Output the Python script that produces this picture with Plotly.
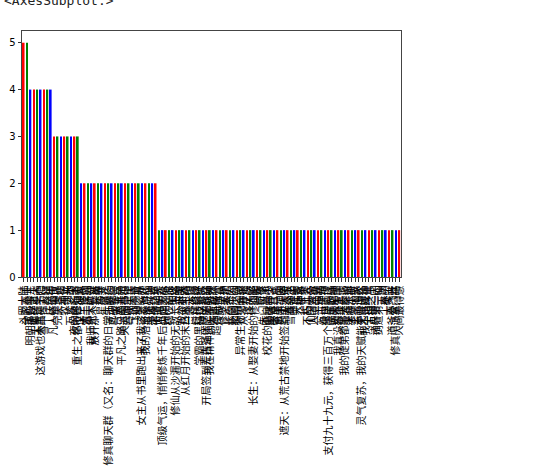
import plotly.graph_objects as go

labels = [
    "斗罗大陆", "全职高手", "明朝那些事儿", "诡秘之主", "大奉打更人", "这游戏也太真实了吧",
    "雪中悍刀行", "赘婿", "庆余年", "凡人修仙传", "完美世界", "圣墟", "牧神记", "剑来",
    "万族之劫", "夜的命名术", "重生之都市修仙者", "深空彼岸", "大王饶命", "第一序列",
    "我师兄太稳健", "放开那个女巫", "元尊", "星辰变", "盘龙", "修真聊天群（又名：聊天群的日常生活）",
    "武动乾坤", "斗破苍穹", "大主宰", "平凡之路只是开始", "天道图书馆", "吞噬星空", "伏天氏",
    "飞剑问道", "一世之尊", "女主从书里跑出来了我该怎么办", "我的治愈系游戏", "道诡异仙", "灵境行者",
    "宿命之环",
    "大道朝天", "顶级气运，悄悄修炼千年后出世无敌", "光阴之外", "稳住别浪", "仙逆",
    "修仙从沙漏开始的无敌长生路", "求魔", "我欲封天", "从红月开始的末日求生路", "一念永恒",
    "三寸人间", "烂柯棋缘", "学霸的黑科技系统", "神秘复苏", "开局签到荒古圣体之无敌路",
    "我在精神病院学斩神", "大医凌然", "超神机械师", "亏成首富", "修罗武神", "太初", "长夜余火",
    "轮回乐园", "黎明之剑", "异常生物见闻录", "从零开始", "龙族", "择天记",
    "长生：从娶妻开始的修仙路", "间客", "将夜", "朱门风流", "校花的贴身高手", "最强弃少",
    "医道官途", "官居一品", "奥术神座", "遮天：从荒古禁地开始签到成大帝", "大泼猴", "雪鹰领主",
    "莽荒纪", "天珠变", "神墓", "长生界", "不朽凡人", "仙国大帝", "人道至尊", "帝霸", "万古神帝",
    "绝世武神", "支付九十九元，获得三百万个愿望实现", "武炼巅峰", "逆天邪神", "我真没想重生啊",
    "全球高武", "我的徒弟都是大反派", "深海余烬", "术师手册", "玄鉴仙族", "赤心巡天",
    "灵气复苏，我的天赋能无限进化", "我不是戏神", "十日终焉", "万相之王", "诸界第一因",
    "剑道第一仙", "天渊", "星门", "大梦主", "道爷要飞升", "修真门派掌门路", "人间最得意",
]
counts = [
    5, 5,
    4, 4, 4, 4, 4, 4, 4,
    3, 3, 3, 3, 3, 3, 3, 3,
    2, 2, 2, 2, 2, 2, 2, 2, 2, 2, 2, 2, 2, 2, 2, 2, 2, 2, 2, 2, 2, 2, 2,
    1, 1, 1, 1, 1, 1, 1, 1, 1, 1, 1, 1, 1, 1, 1, 1, 1, 1, 1, 1, 1, 1, 1, 1,
    1, 1, 1, 1, 1, 1, 1, 1, 1, 1, 1, 1, 1, 1, 1, 1, 1, 1, 1, 1, 1, 1, 1, 1,
    1, 1, 1, 1, 1, 1, 1, 1, 1, 1, 1, 1, 1, 1, 1, 1, 1, 1, 1, 1, 1, 1, 1, 1,
]
y_ticks = [0, 1, 2, 3, 4, 5]

n = min(len(labels), len(counts))
labels = labels[:n]
counts = counts[:n]
palette = ["red", "green", "blue"]
colors = [palette[i % 3] for i in range(n)]

fig = go.Figure(go.Bar(x=labels, y=counts, marker=dict(color=colors, line=dict(width=0)), width=0.5))

fig.update_layout(
    width=547, height=476,
    margin=dict(l=22, r=146, t=31, b=199, autoexpand=False),
    paper_bgcolor="white", plot_bgcolor="white",
    showlegend=False,
    font=dict(family="DejaVu Sans", size=10, color="black"),
    annotations=[dict(
        text="&lt;AxesSubplot:&gt;", xref="paper", yref="paper",
        x=-20 / 379, y=1 + 30 / 246, xanchor="left", yanchor="middle",
        showarrow=False, font=dict(family="DejaVu Sans Mono", size=13, color="#222"),
    )],
)
fig.update_xaxes(
    type="category", tickmode="array", tickvals=labels, ticktext=labels,
    tickangle=-90, range=[-0.5, n - 0.5], automargin=False,
    tickfont=dict(family="Noto Sans CJK SC", size=10, color="black"),
    ticks="outside", ticklen=3.5, tickwidth=1, tickcolor="#333",
    showline=True, mirror=True, linecolor="#444", linewidth=1,
    showgrid=False, zeroline=False,
)
fig.update_yaxes(
    range=[0, 5.25], tickmode="array", tickvals=y_ticks, automargin=False,
    tickfont=dict(family="DejaVu Sans", size=10, color="black"),
    ticks="outside", ticklen=3.5, tickwidth=1, tickcolor="#333",
    showline=True, mirror=True, linecolor="#444", linewidth=1,
    showgrid=False, zeroline=False,
)

fig.write_html(
    "out.html",
    config={"displayModeBar": False},
    post_script="document.body.style.margin='0';document.body.style.overflow='hidden';",
)
